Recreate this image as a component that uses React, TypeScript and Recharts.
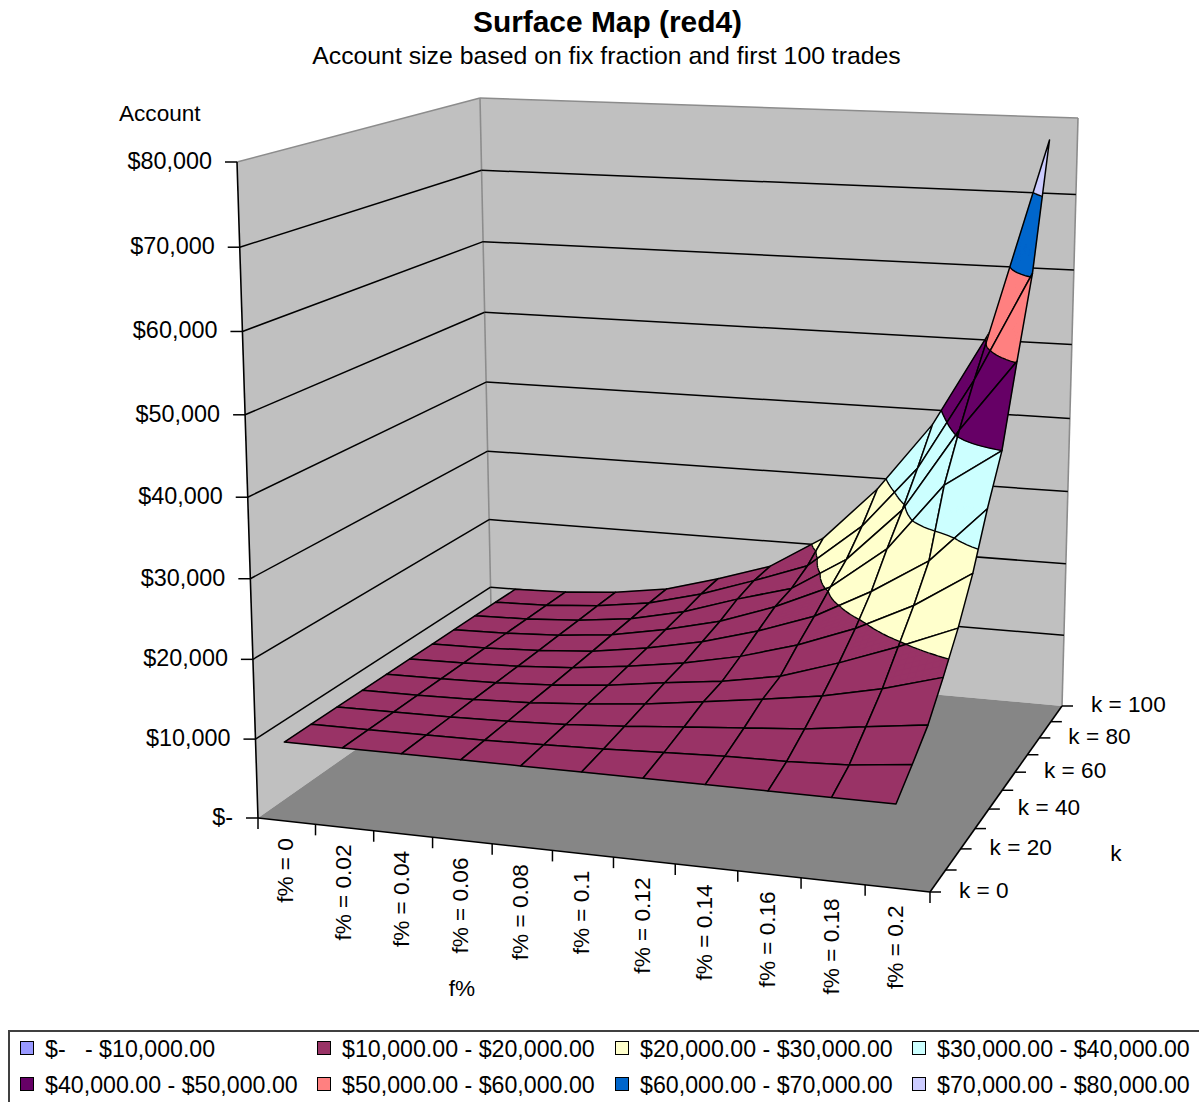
import React from 'react';
import { ScatterChart, Scatter, XAxis, YAxis } from 'recharts';

// ---- data ----------------------------------------------------------------

const fLabels = ['f% = 0', 'f% = 0.02', 'f% = 0.04', 'f% = 0.06', 'f% = 0.08', 'f% = 0.1', 'f% = 0.12', 'f% = 0.14', 'f% = 0.16', 'f% = 0.18', 'f% = 0.2'];
const kLabels = ['k = 0', 'k = 20', 'k = 40', 'k = 60', 'k = 80', 'k = 100'];
const accountTicks = [0, 10000, 20000, 30000, 40000, 50000, 60000, 70000, 80000];
const accountTickLabels = ['$-', '$10,000', '$20,000', '$30,000', '$40,000', '$50,000', '$60,000', '$70,000', '$80,000'];

// account value per f% column, one list for each k row
const accountK0 = [10000, 10000, 10000, 10000, 10000, 10000, 10000, 10000, 10000, 10000, 10000];
const accountK10 = [10000, 10020, 10060, 10140, 10300, 10500, 10800, 11100, 11200, 11500, 12300];
const accountK20 = [10000, 10040, 10120, 10290, 10600, 11100, 11700, 12300, 12900, 13900, 14800];
const accountK30 = [10000, 10060, 10200, 10480, 11000, 11700, 12700, 13700, 14800, 16400, 18500];
const accountK40 = [10000, 10080, 10260, 10620, 11300, 12300, 13200, 14500, 16900, 19600, 22600];
const accountK50 = [10000, 10100, 10340, 10810, 11700, 12800, 14350, 16500, 19300, 22900, 27600];
const accountK60 = [10000, 10120, 10420, 11000, 12100, 13600, 15700, 18300, 22200, 26800, 34100];
const accountK70 = [10000, 10140, 10520, 11240, 12600, 14400, 17000, 20300, 26000, 35000, 40000];
const accountK80 = [10000, 10160, 10620, 11470, 13100, 15500, 17600, 22200, 29500, 40700, 50200];
const accountK90 = [10000, 10180, 10740, 11760, 13700, 16200, 18900, 25000, 33500, 46000, 60500];
const accountK100 = [10000, 10200, 10800, 11900, 14000, 16400, 21000, 28500, 38000, 51000, 77000];
const surfaceRows = [accountK0, accountK10, accountK20, accountK30, accountK40, accountK50, accountK60, accountK70, accountK80, accountK90, accountK100];

const bandLabels = ['$-   - $10,000.00', '$10,000.00 - $20,000.00', '$20,000.00 - $30,000.00', '$30,000.00 - $40,000.00', '$40,000.00 - $50,000.00', '$50,000.00 - $60,000.00', '$60,000.00 - $70,000.00', '$70,000.00 - $80,000.00'];
const bandColors = ['#9999FF', '#993366', '#FFFFCC', '#CCFFFF', '#660066', '#FF8080', '#0066CC', '#CCCCFF'];
const BAND_STEP = 10000;
const Z_MAX = 80000;

// ---- layout --------------------------------------------------------------

const WIDTH = 1199;
const HEIGHT = 1102;
const FONT = '"Liberation Sans", Arial, sans-serif';
const LABEL_SIZE = 22.6;
const VALUE_LABEL_SIZE = 23.4;
// vertical foreshortening: the top of the box is nearer the viewer
const Z_PERSPECTIVE = 0.045;

type Pt = { x: number; y: number };
type Node = { u: number; v: number; z: number };

// box corners on the page: front-left, front-right, back-right, back-left
const FLOOR: Pt[] = [{ x: 258, y: 818 }, { x: 930, y: 892 }, { x: 1062, y: 706 }, { x: 492, y: 654 }];
const CEILING: Pt[] = [{ x: 237, y: 162 }, { x: 917, y: 187 }, { x: 1078, y: 118 }, { x: 480, y: 98 }];

// maps the unit square onto a quadrilateral (perspective)
function quadMap([a, b, c, d]: Pt[]) {
  const sx = a.x - b.x + c.x - d.x;
  const sy = a.y - b.y + c.y - d.y;
  const dx1 = b.x - c.x;
  const dx2 = d.x - c.x;
  const dy1 = b.y - c.y;
  const dy2 = d.y - c.y;
  const den = dx1 * dy2 - dx2 * dy1;
  const g = (sx * dy2 - dx2 * sy) / den;
  const h = (dx1 * sy - sx * dy1) / den;
  return (u: number, v: number): Pt => {
    const w = 1 + g * u + h * v;
    return {
      x: ((b.x * (1 + g) - a.x) * u + (d.x * (1 + h) - a.x) * v + a.x) / w,
      y: ((b.y * (1 + g) - a.y) * u + (d.y * (1 + h) - a.y) * v + a.y) / w,
    };
  };
}

const floorAt = quadMap(FLOOR);
const ceilingAt = quadMap(CEILING);

function project(u: number, v: number, z: number): Pt {
  const lo = floorAt(u, v);
  const hi = ceilingAt(u, v);
  const s = z / Z_MAX;
  const t = s / (1 + Z_PERSPECTIVE * (1 - s));
  return { x: lo.x + (hi.x - lo.x) * t, y: lo.y + (hi.y - lo.y) * t };
}

const toPath = (pts: Pt[], close = true) =>
  pts.map((p, i) => `${i ? 'L' : 'M'}${p.x.toFixed(2)} ${p.y.toFixed(2)}`).join('') + (close ? 'Z' : '');
const nodePt = (n: Node) => project(n.u, n.v, n.z);

// ---- surface cells -------------------------------------------------------

const columnU = (i: number) => (i + 0.5) / fLabels.length;
const rowV = (j: number) => j / (surfaceRows.length - 1);

function clipAbove(poly: Node[], level: number, keepAbove: boolean): Node[] {
  const inside = (n: Node) => (keepAbove ? n.z >= level : n.z <= level);
  const out: Node[] = [];
  poly.forEach((cur, i) => {
    const next = poly[(i + 1) % poly.length];
    if (inside(cur)) out.push(cur);
    if (inside(cur) !== inside(next)) {
      const t = (level - cur.z) / (next.z - cur.z);
      out.push({ u: cur.u + (next.u - cur.u) * t, v: cur.v + (next.v - cur.v) * t, z: level });
    }
  });
  return out;
}

function buildCell(i: number, j: number) {
  const z00 = surfaceRows[j][i];
  const z10 = surfaceRows[j][i + 1];
  const z01 = surfaceRows[j + 1][i];
  const z11 = surfaceRows[j + 1][i + 1];
  const low = Math.min(z00, z10, z01, z11);
  const high = Math.max(z00, z10, z01, z11);
  const firstBand = Math.floor(low / BAND_STEP);
  const lastBand = Math.min(Math.floor(high / BAND_STEP), bandColors.length - 1);
  const steps = firstBand === lastBand ? 1 : 8;
  const at = (s: number, t: number): Node => {
    const a = s / steps;
    const b = t / steps;
    return {
      u: columnU(i) + (columnU(i + 1) - columnU(i)) * a,
      v: rowV(j) + (rowV(j + 1) - rowV(j)) * b,
      z: (z00 * (1 - a) + z10 * a) * (1 - b) + (z01 * (1 - a) + z11 * a) * b,
    };
  };
  const fills = bandColors.map(() => '');
  let contours = '';
  for (let s = 0; s < steps; s++) {
    for (let t = 0; t < steps; t++) {
      const quad = [at(s, t), at(s + 1, t), at(s + 1, t + 1), at(s, t + 1)];
      for (let b = firstBand; b <= lastBand; b++) {
        const piece = clipAbove(clipAbove(quad, b * BAND_STEP, true), (b + 1) * BAND_STEP, false);
        if (piece.length > 2) fills[b] += toPath(piece.map(nodePt));
        if (b > firstBand) {
          // band boundary running through this sub-quad
          const level = b * BAND_STEP;
          const hits: Pt[] = [];
          quad.forEach((cur, q) => {
            const next = quad[(q + 1) % 4];
            if (cur.z < level !== next.z < level) {
              const f = (level - cur.z) / (next.z - cur.z);
              hits.push(project(cur.u + (next.u - cur.u) * f, cur.v + (next.v - cur.v) * f, level));
            }
          });
          for (let h = 0; h + 1 < hits.length; h += 2) contours += toPath([hits[h], hits[h + 1]], false);
        }
      }
    }
  }
  // straight mesh edges between the four corner values
  const edge = (s: number, t: number) => nodePt(at(s, t));
  const outline = [
    [edge(0, 0), edge(steps, 0)],
    [edge(steps, 0), edge(steps, steps)],
    [edge(steps, steps), edge(0, steps)],
    [edge(0, steps), edge(0, 0)],
  ]
    .map((pair) => toPath(pair, false))
    .join('');
  const centre = project(columnU(i), rowV(j), z00);
  return { x: centre.x, y: centre.y, fills, contours, outline };
}

// back rows first, left to right, so nearer cells paint over farther ones
const surfaceCells: ReturnType<typeof buildCell>[] = [];
for (let j = surfaceRows.length - 2; j >= 0; j--) {
  for (let i = 0; i < surfaceRows[j].length - 1; i++) surfaceCells.push(buildCell(i, j));
}

// ---- walls, grid, axes ---------------------------------------------------

const [fl, fr, br, bl] = FLOOR;
const [cfl, , cbr, cbl] = CEILING;

const wallPanels = [
  { x: fl.x, y: fl.y, d: toPath([fl, cfl, cbl, bl]), fill: '#C0C0C0' },
  { x: bl.x, y: bl.y, d: toPath([bl, cbl, cbr, br]), fill: '#C0C0C0' },
  { x: fl.x, y: fl.y, d: toPath([fl, fr, br, bl]), fill: '#868686' },
];

const seg = (a: Pt, b: Pt, stroke: string, w: number) => ({ x: a.x, y: a.y, d: toPath([a, b], false), stroke, w });

const wallLines = [
  seg(cfl, cbl, '#8c8c8c', 1.6),
  seg(cbl, cbr, '#8c8c8c', 1.6),
  seg(bl, cbl, '#8c8c8c', 1.6),
  seg(br, cbr, '#8c8c8c', 1.6),
  ...accountTicks.slice(1, -1).map((z) => seg(project(0, 0, z), project(0, 1, z), '#000', 1.5)),
  ...accountTicks.slice(1, -1).map((z) => seg(project(0, 1, z), project(1, 1, z), '#000', 1.5)),
];

const axisLines = [
  seg(fl, cfl, '#000', 1.6),
  seg(fl, fr, '#000', 1.6),
  seg(fr, br, '#000', 1.6),
  ...accountTicks.map((z) => {
    const p = project(0, 0, z);
    return seg(p, { x: p.x - 12, y: p.y }, '#000', 1.5);
  }),
  ...Array.from({ length: fLabels.length + 1 }, (_, i) => {
    const p = floorAt(i / fLabels.length, 0);
    return seg(p, { x: p.x, y: p.y + 11 }, '#000', 1.5);
  }),
  ...surfaceRows.map((_, j) => {
    const p = floorAt(1, rowV(j));
    return seg(p, { x: p.x + 11, y: p.y }, '#000', 1.5);
  }),
];

type Label = Pt & { text: string; anchor: string; size?: number; weight?: string; rotate?: boolean };

const chartLabels: Label[] = [
  { x: 607.5, y: 32, text: 'Surface Map (red4)', anchor: 'middle', size: 29.9, weight: 'bold' },
  { x: 606.5, y: 64, text: 'Account size based on fix fraction and first 100 trades', anchor: 'middle', size: 24.8 },
  { x: 119, y: 121, text: 'Account', anchor: 'start' },
  { x: 462, y: 996, text: 'f%', anchor: 'middle' },
  { x: 1116, y: 861, text: 'k', anchor: 'middle' },
  ...accountTickLabels.map((text, i) => {
    const p = project(0, 0, accountTicks[i]);
    return { x: p.x - 25, y: p.y + 7, text, anchor: 'end', size: VALUE_LABEL_SIZE };
  }),
  ...fLabels.map((text, i) => {
    const p = floorAt(columnU(i), 0);
    return { x: p.x + 6, y: p.y + 17, text, anchor: 'end', rotate: true };
  }),
  ...kLabels.map((text, i) => {
    const p = floorAt(1, i / (kLabels.length - 1));
    return { x: p.x + 29, y: p.y + 6, text, anchor: 'start' };
  }),
];

// ---- shapes --------------------------------------------------------------

// everything below is drawn in page units; cx/cy carry the axis scale's position
const shift = (p: any) => `translate(${p.cx - p.payload.x},${p.cy - p.payload.y})`;

const PanelShape = (p: any) => <path transform={shift(p)} d={p.payload.d} fill={p.payload.fill} />;

const LineShape = (p: any) => (
  <path transform={shift(p)} d={p.payload.d} fill="none" stroke={p.payload.stroke} strokeWidth={p.payload.w} />
);

const CellShape = (p: any) => (
  <g transform={shift(p)}>
    {p.payload.fills.map((d: string, b: number) =>
      d ? <path key={b} d={d} fill={bandColors[b]} stroke={bandColors[b]} strokeWidth={0.5} /> : null,
    )}
    <path d={p.payload.contours} fill="none" stroke="#000" strokeWidth={1.4} />
    <path d={p.payload.outline} fill="none" stroke="#000" strokeWidth={1.5} strokeLinecap="round" />
  </g>
);

const LabelShape = (p: any) => {
  const { text, anchor, size, weight, rotate } = p.payload;
  return (
    <text
      x={p.cx}
      y={p.cy}
      textAnchor={anchor}
      fontFamily={FONT}
      fontSize={size ?? LABEL_SIZE}
      fontWeight={weight ?? 'normal'}
      fill="#000"
      style={{ whiteSpace: 'pre' }}
      transform={rotate ? `rotate(-90 ${p.cx} ${p.cy})` : undefined}
    >
      {text}
    </text>
  );
};

// ---- legend --------------------------------------------------------------

const LEGEND_COLUMNS = [20, 317, 615, 912];

const SurfaceLegend = () => (
  <div
    style={{
      position: 'absolute',
      left: 8,
      top: 1030,
      width: 1200,
      height: 90,
      boxSizing: 'border-box',
      border: '2px solid #404040',
      background: '#fff',
    }}
  >
    {bandLabels.map((label, i) => {
      const left = LEGEND_COLUMNS[i % 4] - 10;
      const top = i < 4 ? 7 : 43;
      return (
        <React.Fragment key={label}>
          <div
            style={{
              position: 'absolute',
              left,
              top: top + 2,
              width: 14,
              height: 14,
              boxSizing: 'border-box',
              border: '1.5px solid #000',
              background: bandColors[i],
            }}
          />
          <div
            style={{
              position: 'absolute',
              left: left + 25,
              top: top - 4,
              fontFamily: FONT,
              fontSize: 23.2,
              lineHeight: '28px',
              whiteSpace: 'pre',
              color: '#000',
            }}
          >
            {label}
          </div>
        </React.Fragment>
      );
    })}
  </div>
);

export default function App() {
  return (
    <div style={{ position: 'absolute', left: 0, top: 0, width: WIDTH, height: HEIGHT, overflow: 'hidden', background: '#fff' }}>
      <ScatterChart width={WIDTH} height={HEIGHT} margin={{ top: 0, right: 0, bottom: 0, left: 0 }}>
        <XAxis type="number" dataKey="x" domain={[0, WIDTH]} hide />
        <YAxis type="number" dataKey="y" domain={[0, HEIGHT]} reversed hide />
        <Scatter data={wallPanels} shape={PanelShape} isAnimationActive={false} />
        <Scatter data={wallLines} shape={LineShape} isAnimationActive={false} />
        <Scatter data={axisLines} shape={LineShape} isAnimationActive={false} />
        <Scatter data={surfaceCells} shape={CellShape} isAnimationActive={false} />
        <Scatter data={chartLabels} shape={LabelShape} isAnimationActive={false} />
      </ScatterChart>
      <SurfaceLegend />
    </div>
  );
}
